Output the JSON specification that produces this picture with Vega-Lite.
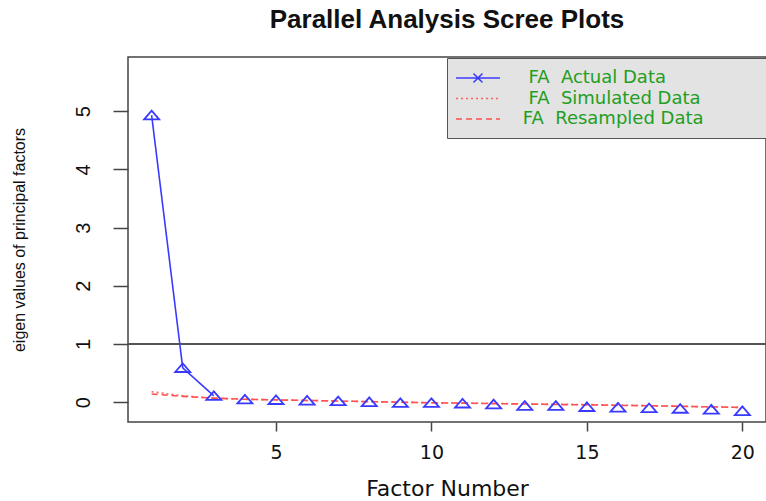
{
  "$schema": "https://vega.github.io/schema/vega-lite/v6.json",
  "autosize": {"type": "none"},
  "width": 638,
  "height": 365,
  "padding": {"left": 128, "top": 57, "right": 0, "bottom": 79},
  "background": "white",
  "config": {
    "view": {"stroke": "#444", "strokeWidth": 1.5},
    "font": "DejaVu Sans"
  },
  "title": {
    "text": "Parallel Analysis Scree Plots",
    "font": "Liberation Sans",
    "fontWeight": "bold",
    "fontSize": 26,
    "color": "#111",
    "anchor": "middle",
    "offset": 24
  },
  "data": {
    "values": [
      {"factor": 1, "value": 4.93, "series": "Actual"},
      {"factor": 2, "value": 0.59, "series": "Actual"},
      {"factor": 3, "value": 0.11, "series": "Actual"},
      {"factor": 4, "value": 0.05, "series": "Actual"},
      {"factor": 5, "value": 0.04, "series": "Actual"},
      {"factor": 6, "value": 0.03, "series": "Actual"},
      {"factor": 7, "value": 0.02, "series": "Actual"},
      {"factor": 8, "value": 0.005, "series": "Actual"},
      {"factor": 9, "value": -0.01, "series": "Actual"},
      {"factor": 10, "value": -0.01, "series": "Actual"},
      {"factor": 11, "value": -0.02, "series": "Actual"},
      {"factor": 12, "value": -0.035, "series": "Actual"},
      {"factor": 13, "value": -0.06, "series": "Actual"},
      {"factor": 14, "value": -0.06, "series": "Actual"},
      {"factor": 15, "value": -0.08, "series": "Actual"},
      {"factor": 16, "value": -0.09, "series": "Actual"},
      {"factor": 17, "value": -0.1, "series": "Actual"},
      {"factor": 18, "value": -0.11, "series": "Actual"},
      {"factor": 19, "value": -0.125, "series": "Actual"},
      {"factor": 20, "value": -0.15, "series": "Actual"},
      {"factor": 1, "value": 0.18, "series": "Simulated"},
      {"factor": 2, "value": 0.11, "series": "Simulated"},
      {"factor": 3, "value": 0.07, "series": "Simulated"},
      {"factor": 4, "value": 0.05, "series": "Simulated"},
      {"factor": 5, "value": 0.04, "series": "Simulated"},
      {"factor": 6, "value": 0.03, "series": "Simulated"},
      {"factor": 7, "value": 0.02, "series": "Simulated"},
      {"factor": 8, "value": 0.01, "series": "Simulated"},
      {"factor": 9, "value": 0.0, "series": "Simulated"},
      {"factor": 10, "value": -0.01, "series": "Simulated"},
      {"factor": 11, "value": -0.015, "series": "Simulated"},
      {"factor": 12, "value": -0.02, "series": "Simulated"},
      {"factor": 13, "value": -0.03, "series": "Simulated"},
      {"factor": 14, "value": -0.035, "series": "Simulated"},
      {"factor": 15, "value": -0.04, "series": "Simulated"},
      {"factor": 16, "value": -0.05, "series": "Simulated"},
      {"factor": 17, "value": -0.06, "series": "Simulated"},
      {"factor": 18, "value": -0.07, "series": "Simulated"},
      {"factor": 19, "value": -0.08, "series": "Simulated"},
      {"factor": 20, "value": -0.09, "series": "Simulated"},
      {"factor": 1, "value": 0.14, "series": "Resampled"},
      {"factor": 2, "value": 0.1, "series": "Resampled"},
      {"factor": 3, "value": 0.07, "series": "Resampled"},
      {"factor": 4, "value": 0.05, "series": "Resampled"},
      {"factor": 5, "value": 0.04, "series": "Resampled"},
      {"factor": 6, "value": 0.03, "series": "Resampled"},
      {"factor": 7, "value": 0.02, "series": "Resampled"},
      {"factor": 8, "value": 0.01, "series": "Resampled"},
      {"factor": 9, "value": 0.0, "series": "Resampled"},
      {"factor": 10, "value": -0.01, "series": "Resampled"},
      {"factor": 11, "value": -0.015, "series": "Resampled"},
      {"factor": 12, "value": -0.025, "series": "Resampled"},
      {"factor": 13, "value": -0.03, "series": "Resampled"},
      {"factor": 14, "value": -0.04, "series": "Resampled"},
      {"factor": 15, "value": -0.045, "series": "Resampled"},
      {"factor": 16, "value": -0.055, "series": "Resampled"},
      {"factor": 17, "value": -0.06, "series": "Resampled"},
      {"factor": 18, "value": -0.07, "series": "Resampled"},
      {"factor": 19, "value": -0.08, "series": "Resampled"},
      {"factor": 20, "value": -0.09, "series": "Resampled"}
    ]
  },
  "encoding": {
    "x": {
      "field": "factor",
      "type": "quantitative",
      "scale": {"domain": [0.24, 20.76], "nice": false, "zero": false},
      "axis": {
        "values": [5, 10, 15, 20],
        "title": "Factor Number",
        "titleFont": "DejaVu Sans",
        "titleFontSize": 22,
        "titleFontWeight": "normal",
        "titleColor": "#111",
        "titlePadding": 16,
        "labelFont": "DejaVu Sans",
        "labelFontSize": 19,
        "labelColor": "#111",
        "labelPadding": 12,
        "tickSize": 9,
        "tickWidth": 1.5,
        "tickColor": "#444",
        "domain": false,
        "grid": false
      }
    },
    "y": {
      "field": "value",
      "type": "quantitative",
      "scale": {"domain": [-0.34, 5.93], "nice": false, "zero": false},
      "axis": {
        "values": [0, 1, 2, 3, 4, 5],
        "title": "eigen values of principal factors",
        "titleFont": "Liberation Sans",
        "titleFontSize": 16,
        "titleFontWeight": "normal",
        "titleColor": "#111",
        "titlePadding": 46,
        "labelFont": "Liberation Sans",
        "labelFontSize": 20,
        "labelColor": "#111",
        "labelAngle": 270,
        "labelAlign": "center",
        "labelBaseline": "bottom",
        "labelPadding": 20,
        "tickSize": 15,
        "tickWidth": 1.5,
        "tickColor": "#444",
        "domain": false,
        "grid": false
      }
    }
  },
  "layer": [
    {
      "mark": {"type": "rule", "color": "#555", "strokeWidth": 1.5},
      "encoding": {"y": {"datum": 1}, "x": null}
    },
    {
      "transform": [{"filter": "datum.series !== 'Actual' || datum.factor <= 3"}],
      "mark": {"type": "line", "strokeWidth": 1.6},
      "encoding": {
        "color": {
          "field": "series",
          "type": "nominal",
          "scale": {"domain": ["Actual", "Simulated", "Resampled"], "range": ["#3a3aff", "#ff6060", "#ff5050"]},
          "legend": {
            "orient": "none",
            "legendX": 319,
            "legendY": 1,
            "title": null,
            "fillColor": "#e3e3e3",
            "strokeColor": "#555",
            "padding": 10,
            "symbolType": "M-1.22,0H3.67",
            "symbolSize": 324,
            "symbolStrokeWidth": 1.5,
            "labelFont": "DejaVu Sans",
            "labelFontSize": 18,
            "labelColor": "#229e22",
            "labelOffset": 40,
            "labelLimit": 600,
            "rowPadding": 1.5,
            "labelExpr": "datum.value === 'Actual' ? '\u200b\u00a0\u00a0FA\u00a0\u00a0Actual Data' : datum.value === 'Simulated' ? '\u200b\u00a0\u00a0FA\u00a0\u00a0Simulated Data' : '\u200b\u00a0FA\u00a0\u00a0Resampled Data\u00a0\u00a0\u00a0\u00a0\u00a0\u00a0\u00a0\u00a0\u00a0\u00a0\u200b'",
            "encode": {
              "symbols": {
                "update": {
                  "shape": [
                    {"test": "datum.value === 'Actual'", "value": "M-1.22,0H3.67M0.72,-0.5L1.72,0.5M0.72,0.5L1.72,-0.5"},
                    {"value": "M-1.22,0H3.67"}
                  ]
                }
              }
            }
          }
        },
        "strokeDash": {
          "field": "series",
          "type": "nominal",
          "scale": {"domain": ["Actual", "Simulated", "Resampled"], "range": [[1, 0], [2, 3], [6, 4]]}
        }
      }
    },
    {
      "transform": [{"filter": "datum.series === 'Actual'"}],
      "mark": {
        "type": "point",
        "shape": "M-1,0.55L1,0.55L0,-0.6Z",
        "size": 225,
        "filled": false,
        "stroke": "#3a3aff",
        "strokeWidth": 1.8,
        "opacity": 1
      }
    }
  ]
}
